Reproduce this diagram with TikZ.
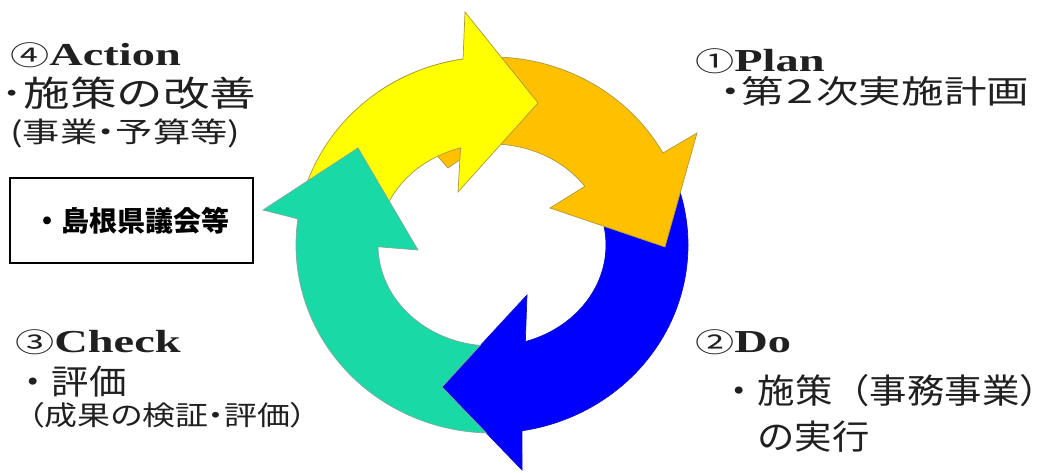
\documentclass[tikz,border=0pt]{standalone}
\usepackage{fontspec}
\setmainfont{Liberation Serif}
\newfontfamily\jpfont{Noto Sans CJK JP}
\newfontfamily\headfont[FakeStretch=1.45]{Liberation Serif}
\newfontfamily\headdigit[FakeStretch=1.45]{Noto Sans CJK JP}
\newfontfamily\jpwide[FakeStretch=1.33,RawFeature=+palt]{Noto Sans CJK JP}
\newfontfamily\jpplain[FakeStretch=1.33]{Noto Sans CJK JP}
\newfontfamily\jpsub[FakeStretch=1.22,RawFeature=+palt]{Noto Sans CJK JP}
\newfontfamily\jpmid[FakeStretch=1.1]{Noto Sans CJK JP}
\usepackage{xcolor}
\definecolor{ArrowYellow}{HTML}{FFFF00}
\definecolor{ArrowOrange}{HTML}{FFC000}
\definecolor{ArrowBlue}{HTML}{0000FF}
\definecolor{ArrowTeal}{HTML}{19D9A6}
\definecolor{EdgeOlive}{HTML}{A89A40}
\definecolor{EdgeTeal}{HTML}{7FA898}
\definecolor{EdgeBlue}{HTML}{1010C0}
\definecolor{TextInk}{HTML}{202020}
\usetikzlibrary{calc}

\newcommand{\phasenum}[1]{{\headdigit\mdseries\fontsize{27}{27}\selectfont #1}}

\begin{document}
\begin{tikzpicture}[x=1pt, y=1pt,
  arc part/.style={line width=0.7pt, line join=miter},
  phase/.style={anchor=base west, inner sep=0pt, text=TextInk,
                font=\headfont\bfseries\fontsize{32}{32}\selectfont},
  note/.style={anchor=base west, inner sep=0pt, text=TextInk},
  council/.style={draw=black, line width=1.6pt, minimum width=243pt, minimum height=85pt,
                  inner sep=0pt, font=\jpfont\bfseries\fontsize{28}{28}\selectfont}
]
\useasboundingbox (0,0) rectangle (1057,473);

%% ---- ring centre ----
\coordinate (C) at (492,228);

%% ---- Do: blue arrow, right side down to the bottom ----
\draw[arc part, draw=EdgeBlue, fill=ArrowBlue]
  ($(C)+(25:196 and 188)$) arc[start angle=25, end angle=-81.2, x radius=196, y radius=188]
  -- (522,3) -- (442,86) -- (527,178)
  -- ($(C)+(-73:114 and 101)$) arc[start angle=-73, end angle=25, x radius=114, y radius=101]
  -- cycle;

%% ---- Plan: orange arrow, top down to the right ----
\draw[arc part, draw=EdgeOlive, fill=ArrowOrange]
  ($(C)+(125:196 and 188)$) arc[start angle=125, end angle=29.3, x radius=196, y radius=188]
  -- (697,340) -- (665,226) -- (550,265)
  -- ($(C)+(35.5:114 and 101)$) arc[start angle=35.5, end angle=95, x radius=114, y radius=101]
  -- (448,305) -- cycle;

%% ---- Action: yellow arrow, left up to the top ----
\draw[arc part, draw=EdgeOlive, fill=ArrowYellow]
  ($(C)+(170:196 and 188)$) arc[start angle=170, end angle=98.5, x radius=196, y radius=188]
  -- (465,461) -- (538,370) -- (458,281)
  -- ($(C)+(106:114 and 101)$) arc[start angle=106, end angle=170, x radius=114, y radius=101]
  -- cycle;

%% ---- Check: teal arrow, bottom up to the left ----
% tail is cut along the blue head so the blue tip stays on top
\draw[arc part, draw=EdgeTeal, fill=ArrowTeal]
  ($(C)+(268.3:196 and 188)$) arc[start angle=268.3, end angle=172, x radius=196, y radius=188]
  -- (263,263) -- (358,325) -- (418,223)
  -- ($(C)+(181:114 and 101)$) arc[start angle=181, end angle=264, x radius=114, y radius=101]
  -- (442,86) -- cycle;

%% ---- Action labels (top left) ----
\node[phase] (act) at (10,407) {\phasenum{④}Action};
\node[note, font=\jpplain\fontsize{35}{35}\selectfont] (actdo) at (0,366) {･施策の改善};
\node[note, font=\jpwide\fontsize{28}{28}\selectfont] (actsub) at (10,330) {(事業・予算等)};
\node[council] (assembly) at (131.5,252.5) {・島根県議会等};

%% ---- Plan labels (top right) ----
\node[phase] (plan) at (695,401) {\phasenum{①}Plan};
\node[note, font=\jpwide\fontsize{32}{32}\selectfont] (plando) at (720,369) {・第２次実施計画};

%% ---- Do labels (bottom right) ----
\node[phase] (do) at (695,120) {\phasenum{②}Do};
\node[note, font=\jpmid\fontsize{34}{34}\selectfont] (dodo) at (720,69) {・施策（事務事業）};
\node[note, font=\jpmid\fontsize{34}{34}\selectfont] (dorun) at (757,23) {の実行};

%% ---- Check labels (bottom left) ----
\node[phase] (check) at (15,120) {\phasenum{③}Check};
\node[note, font=\jpmid\fontsize{34}{34}\selectfont] (checkdo) at (14,78) {・評価};
\node[note, font=\jpsub\fontsize{27}{27}\selectfont] (checksub) at (28,47) {（成果の検証・評価）};

\end{tikzpicture}
\end{document}
